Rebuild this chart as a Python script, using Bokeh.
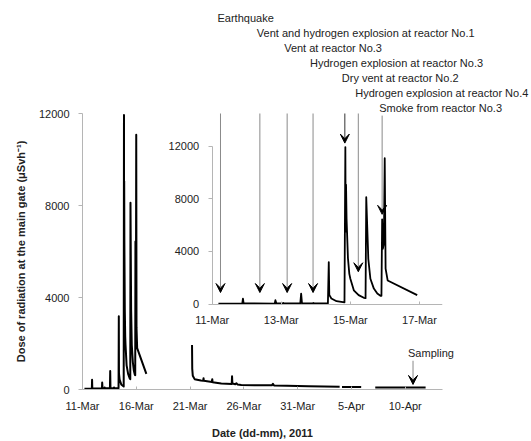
from bokeh.plotting import figure
from bokeh.models import Range1d, LinearAxis, FixedTicker, ColumnDataSource, Arrow, VeeHead
from bokeh.core.properties import value
from bokeh.embed import file_html
from bokeh.resources import INLINE

# ---------------- data (x = day of March 2011; April days continue 32, 33, ...) ----------------
seg1_day = [11.18, 11.87, 11.89, 11.91, 12.81, 12.83, 12.86, 13.04, 13.06, 13.08, 13.55, 13.575, 13.60,
            13.90, 13.93, 13.96, 14.35, 14.375, 14.39, 14.45, 14.60, 14.83, 14.855, 14.865, 14.875,
            14.89, 14.93, 14.97, 15.00, 15.10, 15.24, 15.39, 15.44, 15.46, 15.52, 15.58, 15.68, 15.78,
            15.87, 15.90, 15.92, 15.94, 15.97, 15.995, 16.02, 16.08, 16.935]
seg1_dose = [30, 30, 420, 50, 40, 300, 50, 50, 90, 50, 50, 800, 50,
             50, 90, 50, 50, 3190, 700, 430, 220, 130, 11930, 5500, 9070,
             6500, 3500, 2300, 1930, 1050, 680, 480, 450, 8120, 3430, 1930, 1180, 800,
             630, 620, 6440, 4200, 4600, 11080, 2700, 1800, 680]

seg2_day = [21.18, 21.20, 21.25, 21.42, 22.00, 22.22, 22.25, 22.28, 23.03, 23.06, 23.09, 23.90,
            24.87, 24.90, 24.93, 25.20, 25.30, 25.40, 25.76, 27.00, 28.60, 28.70, 28.80, 30.00,
            32.00, 34.90]
seg2_dose = [1930, 900, 600, 450, 390, 380, 490, 380, 330, 450, 320, 260,
             240, 575, 260, 230, 270, 220, 200, 190, 180, 250, 175, 160,
             140, 115]
seg3_day = [35.12, 36.90]
seg3_dose = [110, 105]
seg4_day = [38.21, 42.89]
seg4_dose = [90, 90]

main_ticks = [11, 16, 21, 26, 31, 36, 41]
main_tick_labels = ["11-Mar", "16-Mar", "21-Mar", "26-Mar", "31-Mar", "5-Apr", "10-Apr"]
inset_ticks = [11, 13, 15, 17]
inset_tick_labels = ["11-Mar", "13-Mar", "15-Mar", "17-Mar"]
dose_ticks = [0, 4000, 8000, 12000]

events = ["Earthquake",
          "Vent and hydrogen explosion at reactor No.1",
          "Vent at reactor No.3",
          "Hydrogen explosion at reactor No.3",
          "Dry vent at reactor No.2",
          "Hydrogen explosion at reactor No.4",
          "Smoke from reactor No.3"]
event_day = [11.24, 12.38, 13.17, 13.92, 14.84, 15.23, 15.92]
event_dose = [880, 880, 880, 880, 12230, 2460, 6820]

sampling_day = 41.72
sampling_dose = 220

# ---------------- figure ----------------
FONT = "Liberation Sans"
TXT = "#222222"
AX = "#b5b5b5"

W, H = 531, 441
frame_l, frame_r, frame_t, frame_b = 82.0, 442.0, 113.0, 392.0
p = figure(width=W, height=H, x_range=Range1d(11, 44.46), y_range=Range1d(0, 12000),
           output_backend="svg", toolbar_location=None,
           min_border_left=int(frame_l), min_border_right=int(W - frame_r),
           min_border_top=int(frame_t), min_border_bottom=int(H - frame_b))
p.grid.visible = False
p.outline_line_color = None
p.background_fill_color = "white"
p.border_fill_color = "white"

# inset placement (pixels of inset axes relative to main frame)
in_x0, in_px_day = 211.7, 34.54     # x pixel of 11-Mar, px per day
in_y0, in_px_unit = 305.7, 159.7 / 12000.0
ix_start = 11 - (in_x0 - frame_l) / in_px_day
ix_end = 11 + (frame_r - in_x0) / in_px_day
iy_start = -(frame_b - in_y0) / in_px_unit
iy_end = (in_y0 - frame_t) / in_px_unit
p.extra_x_ranges = {"ix": Range1d(ix_start, ix_end)}
p.extra_y_ranges = {"iy": Range1d(iy_start, iy_end)}


def style_axis(ax, vertical):
    ax.axis_line_color = AX
    ax.major_tick_line_color = AX
    ax.minor_tick_line_color = None
    ax.major_label_text_font = FONT
    ax.major_label_text_font_size = "11px"
    ax.major_label_text_color = TXT
    ax.axis_label_text_font = FONT
    ax.axis_label_text_font_size = "11px"
    ax.axis_label_text_font_style = "bold"
    ax.axis_label_text_color = TXT
    if vertical:
        ax.major_tick_out = 4
        ax.major_tick_in = 0
        ax.major_label_standoff = 9
    else:
        ax.major_tick_out = 0
        ax.major_tick_in = 3
        ax.major_label_standoff = 10


# main axes
xa = p.xaxis[0]
xa.ticker = FixedTicker(ticks=main_ticks)
xa.major_label_overrides = dict(zip(main_ticks, main_tick_labels))
xa.axis_label = "Date (dd-mm), 2011"
style_axis(xa, False)
xa.axis_label_standoff = 12

ya = p.yaxis[0]
ya.ticker = FixedTicker(ticks=dose_ticks)
ya.axis_label = "Dose of radiation at the main gate (\u03bcSvh\u207b\u00b9)"
style_axis(ya, True)
ya.axis_label_standoff = 9

# inset axes (drawn inside the main frame)
iya = LinearAxis(x_range_name="ix", y_range_name="iy", fixed_location=11, bounds=(0, 12000),
                 ticker=FixedTicker(ticks=dose_ticks))
style_axis(iya, True)
p.add_layout(iya, "left")
ixa = LinearAxis(x_range_name="ix", y_range_name="iy", fixed_location=0, bounds=(11, 18),
                 ticker=FixedTicker(ticks=inset_ticks))
ixa.major_label_overrides = dict(zip(inset_ticks, inset_tick_labels))
style_axis(ixa, False)
p.add_layout(ixa, "below")

# main series
for xs, ys in [(seg1_day, seg1_dose), (seg2_day, seg2_dose), (seg3_day, seg3_dose), (seg4_day, seg4_dose)]:
    p.line(xs, ys, line_color="black", line_width=2, line_join="round")

# inset series
p.line(seg1_day, seg1_dose, x_range_name="ix", y_range_name="iy",
       line_color="black", line_width=1.8, line_join="round")

# event annotations
row_top, row_step, gap = 21700, 1130, 600
label_y = [row_top - i * row_step for i in range(len(events))]
line_colors = ["#8a8a8a"] * len(events)
line_colors[4] = "#333333"
asrc = ColumnDataSource(dict(x0=event_day, y0=[y - gap for y in label_y],
                             x1=event_day, y1=event_dose, c=line_colors))
p.add_layout(Arrow(source=asrc, x_start="x0", y_start="y0", x_end="x1", y_end="y1",
                   x_range_name="ix", y_range_name="iy", line_color="c", line_width=1,
                   end=VeeHead(size=9, fill_color="black", line_color="black")))
tsrc = ColumnDataSource(dict(x=event_day, y=label_y, t=events))
p.text(x="x", y="y", text="t", source=tsrc, x_range_name="ix", y_range_name="iy",
       x_offset=-3, text_align="left", text_baseline="middle",
       text_font=value(FONT), text_font_size="11px", text_color=TXT, level="annotation")

# sampling annotation
ssrc = ColumnDataSource(dict(x0=[sampling_day], y0=[1250], x1=[sampling_day], y1=[sampling_dose]))
p.add_layout(Arrow(source=ssrc, x_start="x0", y_start="y0", x_end="x1", y_end="y1",
                   line_color="#8a8a8a", line_width=1,
                   end=VeeHead(size=9, fill_color="black", line_color="black")))
p.text(x=[sampling_day], y=[1600], text=["Sampling"], x_offset=-5, text_align="left",
       text_baseline="middle", text_font=value(FONT), text_font_size="11px",
       text_color=TXT, level="annotation")

open("out.html", "w").write(file_html(p, INLINE))
